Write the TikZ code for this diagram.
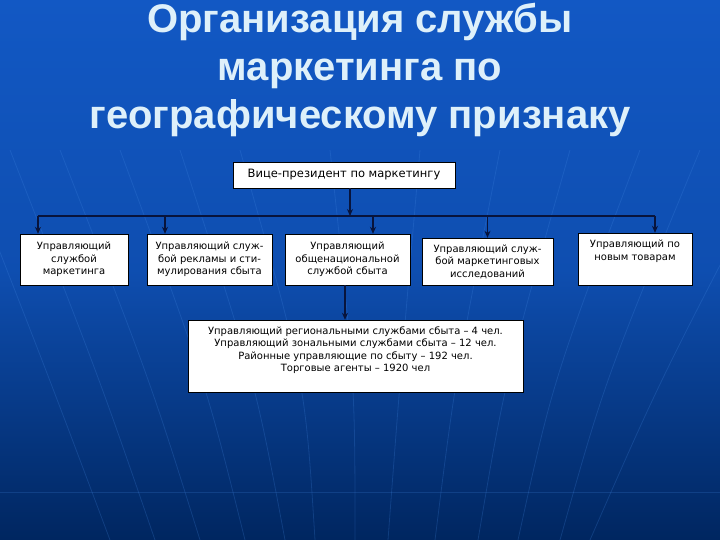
\documentclass[tikz,border=0pt]{standalone}
\usepackage{fontspec}
\setmainfont{DejaVu Sans}
\newfontfamily\titlefont{Liberation Sans}
\usetikzlibrary{shapes,arrows,arrows.meta,positioning}

\definecolor{bgtop}{RGB}{18,88,196}
\definecolor{bgbot}{RGB}{0,38,96}
\definecolor{gridline}{RGB}{70,140,230}
\definecolor{titletext}{RGB}{222,240,250}
\definecolor{linkcol}{RGB}{8,20,60}

\begin{document}
\begin{tikzpicture}[x=1pt, y=-1pt,
    box/.style={rectangle, draw=black, fill=white, inner sep=1pt, align=center,
                font=\fontsize{10}{12.5}\selectfont},
    arrow/.style={-{Stealth[length=7pt,width=6pt]}, draw=linkcol, line width=1.1pt},
    link/.style={draw=linkcol, line width=1.1pt},
    heading/.style={font=\titlefont\bfseries\fontsize{40}{48}\selectfont, align=center}]

    % background
    \shade[top color=bgtop, bottom color=bgbot, middle color=bgtop!80!bgbot] (0,0) rectangle (720,540);
    \useasboundingbox (0,0) rectangle (720,540);
    \foreach \xa/\xb/\xc in {-40/50/110, 10/100/155, 60/150/200, 120/205/245, 180/255/285, 240/305/315, 330/355/355,
                             420/400/388, 500/455/435, 570/505/478, 640/553/518, 700/605/560, 780/660/590}
        \draw[gridline, opacity=0.22, line width=0.8pt] (\xa,150) .. controls (\xb,380) .. (\xc,540);
    \draw[gridline, opacity=0.2] (0,492) -- (720,492);

    % title
    \node[heading, text=titletext] (title) at (360,70) {Организация службы\\маркетинга по\\географическому признаку};

    % boxes
    \node[box, minimum width=222, minimum height=26, font=\fontsize{11.5}{13}\selectfont] (vp) at (344,175) {Вице-президент по маркетингу};
    \node[box, minimum width=108, minimum height=51] (mkt) at (74,259.5) {Управляющий\\службой\\маркетинга};
    \node[box, minimum width=125, minimum height=51] (adv) at (209.5,259.5) {Управляющий служ-\\бой рекламы и сти-\\мулирования сбыта};
    \node[box, minimum width=125, minimum height=51] (nat) at (347.5,259.5) {Управляющий\\общенациональной\\службой сбыта};
    \node[box, minimum width=131, minimum height=47] (res) at (487.5,261.5) {Управляющий служ-\\бой маркетинговых\\исследований};
    \node[box, minimum width=114, minimum height=52, text depth=18pt] (new) at (635,259) {Управляющий по\\новым товарам};
    \node[box, minimum width=335, minimum height=72, text depth=14pt] (reg) at (355.5,356)
        {Управляющий региональными службами сбыта – 4 чел.\\Управляющий зональными службами сбыта – 12 чел.\\Районные управляющие по сбыту – 192 чел.\\Торговые агенты – 1920 чел};

    % connectors
    \coordinate (bus) at (0,216);
    \coordinate (busleft) at ([xshift=-36pt]mkt.north |- bus);
    \coordinate (busright) at ([xshift=20pt]new.north |- bus);
    \draw[arrow] ([xshift=6pt]vp.south) -- ([xshift=6pt]vp.south |- bus);
    \draw[link] (busleft) -- (busright);
    \draw[arrow] (busleft) -- ([xshift=-36pt]mkt.north);
    \draw[arrow] ([xshift=-44.5pt]adv.north |- bus) -- ([xshift=-44.5pt]adv.north);
    \draw[arrow] ([xshift=25.5pt]nat.north |- bus) -- ([xshift=25.5pt]nat.north);
    \draw[arrow] (res.north |- bus) -- (res.north);
    \draw[arrow] (busright) -- ([xshift=20pt]new.north);
    \draw[arrow] ([xshift=-2.5pt]nat.south) -- ([xshift=-2.5pt]nat.south |- reg.north);

\end{tikzpicture}
\end{document}
